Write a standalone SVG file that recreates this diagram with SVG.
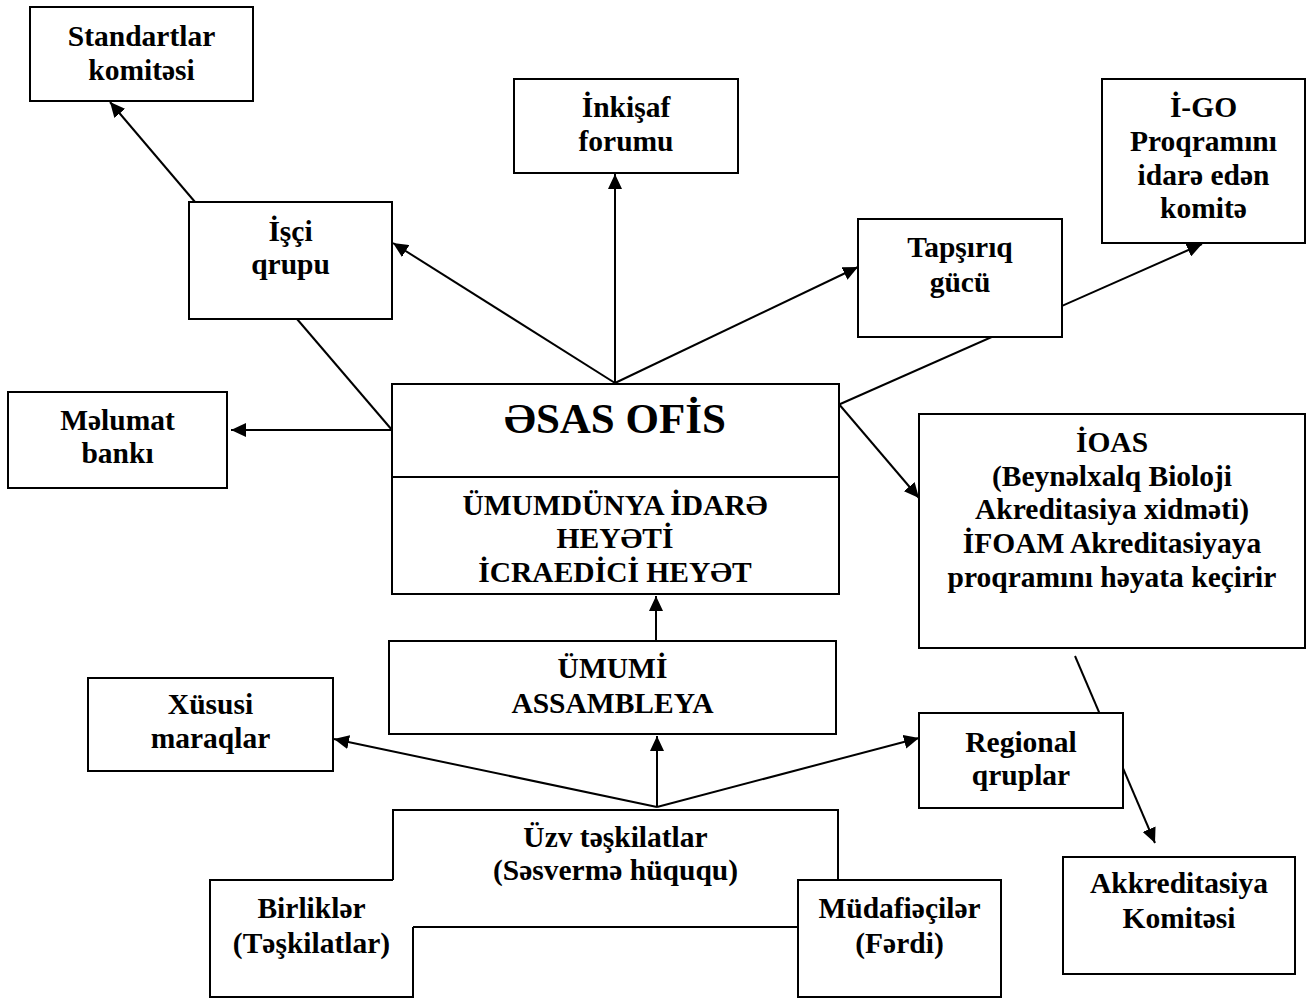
<svg xmlns="http://www.w3.org/2000/svg" width="1315" height="998" viewBox="0 0 1315 998">
<style>
.b{fill:#fff;stroke:#000;stroke-width:2}
.e{fill:none;stroke:#000;stroke-width:2}
.p{fill:#fff;stroke:none}
.t{font-family:"Liberation Serif","Times New Roman",serif;font-weight:bold;font-size:29.5px;text-anchor:middle;fill:#000}
.big{font-size:43px}
.c line{stroke:#000;stroke-width:2}
.a{marker-end:url(#ah)}
</style>
<defs>
<marker id="ah" markerUnits="userSpaceOnUse" markerWidth="16" markerHeight="14" refX="15" refY="7" orient="auto">
<path d="M0,0 L15,7 L0,14 z" fill="#000"/>
</marker>
</defs>
<rect width="1315" height="998" fill="#fff"/>
<g id="connectors" class="c">
<line class="a" x1="195" y1="202" x2="110" y2="102"/>
<line x1="297" y1="319" x2="392" y2="430"/>
<line class="a" x1="392" y1="430" x2="231" y2="430"/>
<line class="a" x1="615" y1="383" x2="393" y2="243"/>
<line class="a" x1="615" y1="383" x2="615" y2="174"/>
<line class="a" x1="615" y1="383" x2="858" y2="267"/>
<line class="a" x1="838" y1="405" x2="1202" y2="244"/>
<line class="a" x1="838" y1="403" x2="919" y2="498"/>
<line class="a" x1="1075" y1="656" x2="1155" y2="843"/>
<line class="a" x1="656" y1="641" x2="656" y2="596"/>
<line class="a" x1="657" y1="807" x2="657" y2="736"/>
<line class="a" x1="657" y1="807" x2="334" y2="739"/>
<line class="a" x1="657" y1="807" x2="919" y2="738"/>
</g>
<g id="standartlar">
<rect class="b" x="30" y="7" width="223" height="94"/>
<text class="t" x="141.5" y="46">Standartlar</text>
<text class="t" x="141.5" y="80">komitəsi</text>
</g>
<g id="isci">
<rect class="b" x="189" y="202" width="203" height="117"/>
<text class="t" x="290.5" y="241">İşçi</text>
<text class="t" x="290.5" y="274">qrupu</text>
</g>
<g id="inkisaf">
<rect class="b" x="514" y="79" width="224" height="94"/>
<text class="t" x="626" y="117">İnkişaf</text>
<text class="t" x="626" y="151">forumu</text>
</g>
<g id="igo">
<rect class="b" x="1102" y="79" width="203" height="164"/>
<text class="t" x="1203.5" y="117">İ-GO</text>
<text class="t" x="1203.5" y="151">Proqramını</text>
<text class="t" x="1203.5" y="185">idarə edən</text>
<text class="t" x="1203.5" y="218">komitə</text>
</g>
<g id="tapsiriq">
<rect class="b" x="858" y="219" width="204" height="118"/>
<text class="t" x="960" y="257">Tapşırıq</text>
<text class="t" x="960" y="292">gücü</text>
</g>
<g id="melumat">
<rect class="b" x="8" y="392" width="219" height="96"/>
<text class="t" x="117.5" y="430">Məlumat</text>
<text class="t" x="117.5" y="463">bankı</text>
</g>
<g id="esas">
<rect class="b" x="392" y="384" width="447" height="210"/>
<line class="e" x1="392" y1="477" x2="839" y2="477"/>
<text class="t big" x="615" y="433">ƏSAS OFİS</text>
<text class="t" x="615" y="515">ÜMUMDÜNYA İDARƏ</text>
<text class="t" x="615" y="548">HEYƏTİ</text>
<text class="t" x="615" y="582">İCRAEDİCİ HEYƏT</text>
</g>
<g id="ioas">
<rect class="b" x="919" y="414" width="386" height="234"/>
<text class="t" x="1112" y="452">İOAS</text>
<text class="t" x="1112" y="486">(Beynəlxalq Bioloji</text>
<text class="t" x="1112" y="519">Akreditasiya xidməti)</text>
<text class="t" x="1112" y="553">İFOAM Akreditasiyaya</text>
<text class="t" x="1112" y="587">proqramını həyata keçirir</text>
</g>
<g id="umumi">
<rect class="b" x="389" y="641" width="447" height="93"/>
<text class="t" x="612.5" y="678">ÜMUMİ</text>
<text class="t" x="612.5" y="713">ASSAMBLEYA</text>
</g>
<g id="xususi">
<rect class="b" x="88" y="678" width="245" height="93"/>
<text class="t" x="210.5" y="714">Xüsusi</text>
<text class="t" x="210.5" y="748">maraqlar</text>
</g>
<g id="regional">
<rect class="b" x="919" y="713" width="204" height="95"/>
<text class="t" x="1021" y="752">Regional</text>
<text class="t" x="1021" y="785">qruplar</text>
</g>
<g id="akkreditasiya">
<rect class="b" x="1063" y="857" width="232" height="117"/>
<text class="t" x="1179" y="893">Akkreditasiya</text>
<text class="t" x="1179" y="928">Komitəsi</text>
</g>
<g id="birlikler">
<rect class="p" x="210" y="880" width="203" height="117"/>
<path class="e" d="M393,880 H210 V997 H413 V927"/>
<text class="t" x="311.5" y="918">Birliklər</text>
<text class="t" x="311.5" y="953">(Təşkilatlar)</text>
</g>
<g id="uzv">
<rect class="p" x="393" y="810" width="445" height="117"/>
<path class="e" d="M393,880 V810 H838 V880 M413,927 H798"/>
<text class="t" x="615.5" y="847">Üzv təşkilatlar</text>
<text class="t" x="615.5" y="880">(Səsvermə hüququ)</text>
</g>
<g id="mudafieciler">
<rect class="b" x="798" y="880" width="203" height="117"/>
<text class="t" x="899.5" y="918">Müdafiəçilər</text>
<text class="t" x="899.5" y="953">(Fərdi)</text>
</g>
</svg>
